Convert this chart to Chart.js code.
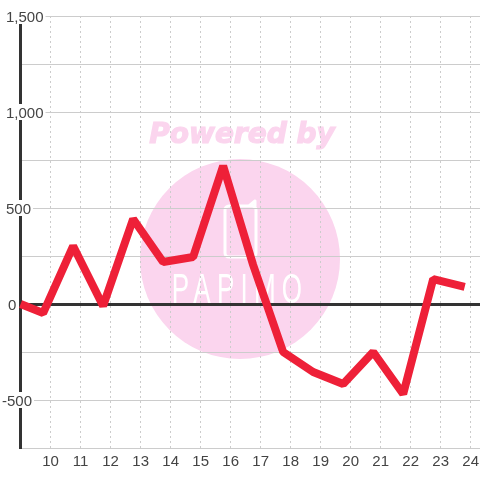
<!DOCTYPE html>
<html>
<head>
<meta charset="utf-8">
<style>
html, body { margin: 0; padding: 0; background: #fff; }
#wrap { width: 480px; height: 480px; }
</style>
<script src="https://cdn.jsdelivr.net/npm/chart.js@4/dist/chart.umd.min.js"></script>
</head>
<body>
<div id="wrap"><canvas id="chart" width="480" height="480"></canvas></div>
<script>
const hours = [9, 9.75, 10.75, 11.75, 12.75, 13.75, 14.75, 15.75, 16.75, 17.75, 18.75, 19.75, 20.75, 21.75, 22.75, 23.8];
const values = [0, -47, 302, -10, 443, 219, 245, 719, 203, -250, -354, -417, -250, -469, 130, 89];
const yTicks = [1500, 1000, 500, 0, -500];
const yTickLeft = { "1500": 6, "1000": 6, "500": 6, "0": 8, "-500": 2 };

// pink logo behind the grid
const watermark = {
    id: "watermark",
    beforeDraw(chart) {
        const c = chart.ctx;
        c.save();
        c.fillStyle = "#fbd5ee";
        c.strokeStyle = "#fbd5ee";
        c.beginPath();
        c.arc(240, 259, 100, 0, Math.PI * 2);
        c.fill();
        c.font = "italic bold 28px 'DejaVu Sans'";
        c.textAlign = "center";
        c.textBaseline = "middle";
        c.lineWidth = 1.2;
        c.strokeText("Powered by", 242, 136);
        c.fillText("Powered by", 242, 136);
        // phone icon
        c.strokeStyle = "#fff";
        c.lineWidth = 3;
        c.lineCap = "round";
        c.beginPath();
        c.roundRect(225, 206, 31, 51, 4);
        c.moveTo(255, 206);
        c.lineTo(255, 201);
        c.moveTo(249, 206);
        c.lineTo(255, 201);
        c.stroke();
        // wordmark, squeezed to the narrow letter shape
        c.fillStyle = "#fff";
        c.translate(240, 291);
        c.scale(0.62, 1);
        c.font = "42px 'Liberation Sans'";
        c.letterSpacing = "10px";
        c.fillText("PAPIMO", 0, 0);
        c.restore();
    }
};

// y labels sit on top of the axis line with a white box behind them
const yLabels = {
    id: "yLabels",
    beforeDatasetsDraw(chart) {
        const c = chart.ctx;
        const y = chart.scales.y;
        c.save();
        c.font = "15px 'Liberation Sans'";
        c.textAlign = "left";
        c.textBaseline = "middle";
        yTicks.forEach(v => {
            const py = y.getPixelForValue(v);
            const text = v.toLocaleString("en-US");
            const left = yTickLeft[v];
            const w = c.measureText(text).width;
            c.fillStyle = "#fff";
            c.fillRect(left - 2, py - 8, w + 4, 16);
            c.fillStyle = "#444";
            c.fillText(text, left, py + 1.5);
        });
        c.restore();
    }
};

new Chart(document.getElementById("chart"), {
    type: "line",
    data: {
        datasets: [{
            data: hours.map((h, i) => ({ x: h, y: values[i] })),
            borderColor: "#ee2038",
            borderWidth: 8,
            pointRadius: 0,
            tension: 0,
            borderCapStyle: "butt",
            borderJoinStyle: "bevel",
            clip: false
        }]
    },
    options: {
        responsive: false,
        animation: false,
        layout: { padding: { top: 16 } },
        plugins: { legend: { display: false }, tooltip: { enabled: false } },
        scales: {
            x: {
                type: "linear",
                min: 8.98,
                max: 24.31,
                afterFit(scale) { scale.height = 32; scale.paddingLeft = 0; scale.paddingRight = 0; },
                grid: { color: "#ccc", drawTicks: false },
                border: { display: false, dash: [2, 3] },
                ticks: {
                    stepSize: 1,
                    includeBounds: false,
                    maxRotation: 0,
                    autoSkip: false,
                    padding: 5,
                    color: "#444",
                    font: { family: "Liberation Sans", size: 15 },
                    callback: v => (v >= 10 ? String(v) : "")
                }
            },
            y: {
                min: -750,
                max: 1500,
                afterFit(scale) { scale.width = 20; },
                grid: {
                    color: ctx => (ctx.tick.value === 0 ? "#333" : "#ccc"),
                    lineWidth: ctx => (ctx.tick.value === 0 ? 3 : 1),
                    drawTicks: false
                },
                border: { display: true, color: "#333", width: 3 },
                ticks: { stepSize: 250, display: false }
            }
        }
    },
    plugins: [watermark, yLabels]
});
</script>
</body>
</html>
